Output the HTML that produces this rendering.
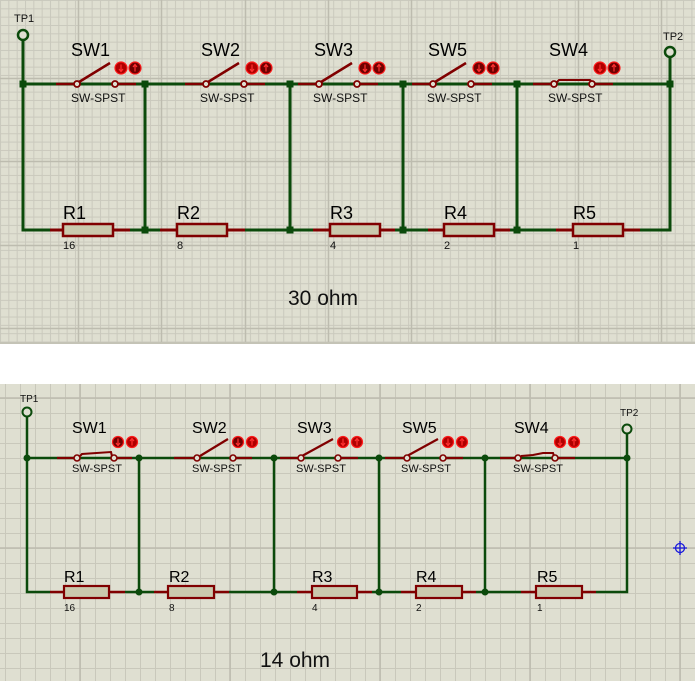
<!DOCTYPE html>
<html><head><meta charset="utf-8"><style>
html,body{margin:0;padding:0;background:#fff;}
svg{display:block;font-family:"Liberation Sans",Arial,sans-serif;}
</style></head><body>
<svg width="695" height="694" viewBox="0 0 695 694" xmlns="http://www.w3.org/2000/svg">
<defs>
<pattern id="g1" x="0" y="0" width="8.33" height="8.33" patternUnits="userSpaceOnUse">
<rect width="8.33" height="8.33" fill="#dfdfd1"/>
<path d="M0 0.5H8.33M0.5 0V8.33" stroke="#cac9bd" stroke-width="1"/>
</pattern>
<pattern id="g2" x="5" y="8" width="15" height="15" patternUnits="userSpaceOnUse">
<rect width="15" height="15" fill="#dfdfd1"/>
<path d="M0 0.5H15M0.5 0V15" stroke="#c9c8bb" stroke-width="1"/>
</pattern>
<g id="dn"><path d="M0 -3.5V3M-2 1L0 3.5L2 1" stroke="#ff3030" stroke-width="1.2" fill="none"/></g>
<g id="up"><path d="M0 3.5V-3M-2 -1L0 -3.5L2 -1" stroke="#ff3030" stroke-width="1.2" fill="none"/></g>
</defs>
<rect x="0" y="0" width="695" height="342" fill="url(#g1)"/>
<path d="M78.5 0V342M161.5 0V342M245.5 0V342M328.5 0V342M411.5 0V342M495.5 0V342M578.5 0V342M661.5 0V342M0 78.5H695M0 161.5H695M0 245.5H695M0 328.5H695" stroke="#bdbcaf" stroke-width="1.5"/>
<rect x="0" y="342" width="695" height="2" fill="#c4c3b6"/>
<rect x="0" y="384" width="695" height="297" fill="url(#g2)"/>
<path d="M80 384V681M230 384V681M380 384V681M530 384V681M680 384V681M0 398H695M0 548H695" stroke="#bdbcaf" stroke-width="1.5"/>

<!-- TOP CIRCUIT -->
<g fill="none" stroke-width="3">
<path d="M23 40V230H63M113 230H177M227 230H330M380 230H444M494 230H573M623 230H670V56" stroke="#0b4a0b"/>
<path d="M23 84H670" stroke="#0b4a0b"/>
<path d="M145 84V230M290 84V230M403 84V230M517 84V230" stroke="#0b4a0b"/>
</g>
<g stroke="#800000" stroke-width="3">
<path d="M50 230H63M113 230H130M160 230H177M227 230H245M313 230H330M380 230H395M428 230H444M494 230H510M556 230H573M623 230H640"/>
</g>
<g fill="#cac9ad" stroke="#800000" stroke-width="2.5">
<rect x="63" y="224" width="50" height="12"/><rect x="177" y="224" width="50" height="12"/><rect x="330" y="224" width="50" height="12"/><rect x="444" y="224" width="50" height="12"/><rect x="573" y="224" width="50" height="12"/>
</g>
<g fill="#000" font-size="18"><text x="63" y="219">R1</text><text x="177" y="219">R2</text><text x="330" y="219">R3</text><text x="444" y="219">R4</text><text x="573" y="219">R5</text></g>
<g fill="#111" font-size="11"><text x="63" y="249">16</text><text x="177" y="249">8</text><text x="330" y="249">4</text><text x="444" y="249">2</text><text x="573" y="249">1</text></g>
<g fill="#0b4a0b"><rect x="19.5" y="80.5" width="7" height="7"/><rect x="141.5" y="80.5" width="7" height="7"/><rect x="286.5" y="80.5" width="7" height="7"/><rect x="399.5" y="80.5" width="7" height="7"/><rect x="513.5" y="80.5" width="7" height="7"/><rect x="666.5" y="80.5" width="7" height="7"/>
<rect x="141.5" y="226.5" width="7" height="7"/><rect x="286.5" y="226.5" width="7" height="7"/><rect x="399.5" y="226.5" width="7" height="7"/><rect x="513.5" y="226.5" width="7" height="7"/></g>
<circle cx="23" cy="35" r="5" fill="#dfdfd1" stroke="#0b4a0b" stroke-width="2.5"/>
<circle cx="670" cy="52" r="5" fill="#dfdfd1" stroke="#0b4a0b" stroke-width="2.5"/>
<g font-size="11" fill="#111"><text x="14" y="22">TP1</text><text x="663" y="40">TP2</text></g>
<text x="288" y="305" font-size="21" fill="#111">30 ohm</text>

<g stroke="#800000" stroke-width="2.5" fill="none">
<path d="M56 84H74M118 84H136M185 84H203M247 84H265M298 84H316M360 84H378M412 84H430M474 84H492M533 84H551M595 84H613"/>
<path d="M79 82L110 63M208 82L239 63M321 82L352 63M435 82L466 63"/>
<path d="M557 82L559 80L590 80L592 82" stroke-width="2"/>
</g>
<g fill="#dfdfd1" stroke="#800000" stroke-width="1.8">
<circle cx="77" cy="84" r="3"/><circle cx="115" cy="84" r="3"/><circle cx="206" cy="84" r="3"/><circle cx="244" cy="84" r="3"/><circle cx="319" cy="84" r="3"/><circle cx="357" cy="84" r="3"/><circle cx="433" cy="84" r="3"/><circle cx="471" cy="84" r="3"/><circle cx="554" cy="84" r="3"/><circle cx="592" cy="84" r="3"/>
</g>
<g fill="#000" font-size="18"><text x="71" y="56">SW1</text><text x="201" y="56">SW2</text><text x="314" y="56">SW3</text><text x="428" y="56">SW5</text><text x="549" y="56">SW4</text></g>
<g fill="#111" font-size="12"><text x="71" y="102">SW-SPST</text><text x="200" y="102">SW-SPST</text><text x="313" y="102">SW-SPST</text><text x="427" y="102">SW-SPST</text><text x="548" y="102">SW-SPST</text></g>
<g stroke="#ff1a1a" stroke-width="1.2">
<circle cx="121" cy="68" r="6" fill="#b00000"/><circle cx="135" cy="68" r="6" fill="#700000"/>
<circle cx="252" cy="68" r="6" fill="#b00000"/><circle cx="266" cy="68" r="6" fill="#700000"/>
<circle cx="365" cy="68" r="6" fill="#700000"/><circle cx="379" cy="68" r="6" fill="#700000"/>
<circle cx="479" cy="68" r="6" fill="#700000"/><circle cx="493" cy="68" r="6" fill="#700000"/>
<circle cx="600" cy="68" r="6" fill="#b00000"/><circle cx="614" cy="68" r="6" fill="#700000"/>
</g>
<use href="#dn" x="121" y="68"/><use href="#up" x="135" y="68"/>
<use href="#dn" x="252" y="68"/><use href="#up" x="266" y="68"/>
<use href="#dn" x="365" y="68"/><use href="#up" x="379" y="68"/>
<use href="#dn" x="479" y="68"/><use href="#up" x="493" y="68"/>
<use href="#dn" x="600" y="68"/><use href="#up" x="614" y="68"/>

<!-- BOTTOM CIRCUIT -->
<g fill="none" stroke="#0b4a0b" stroke-width="2.5">
<path d="M27 417V592H50M125 592H154M229 592H297M372 592H401M476 592H521M596 592H627V434"/>
<path d="M27 458H627"/>
<path d="M139 458V592M274 458V592M379 458V592M485 458V592"/>
</g>
<g stroke="#800000" stroke-width="2.5">
<path d="M50 592H64M109 592H125M154 592H168M214 592H229M297 592H312M357 592H372M401 592H416M462 592H476M521 592H536M582 592H596"/>
</g>
<g fill="#cac9ad" stroke="#800000" stroke-width="2.2">
<rect x="64" y="586" width="45" height="12"/><rect x="168" y="586" width="46" height="12"/><rect x="312" y="586" width="45" height="12"/><rect x="416" y="586" width="46" height="12"/><rect x="536" y="586" width="46" height="12"/>
</g>
<g fill="#000" font-size="16"><text x="64" y="582">R1</text><text x="169" y="582">R2</text><text x="312" y="582">R3</text><text x="416" y="582">R4</text><text x="537" y="582">R5</text></g>
<g fill="#111" font-size="10"><text x="64" y="611">16</text><text x="169" y="611">8</text><text x="312" y="611">4</text><text x="416" y="611">2</text><text x="537" y="611">1</text></g>
<g fill="#0b4a0b"><circle cx="27" cy="458" r="3.5"/><circle cx="139" cy="458" r="3.5"/><circle cx="274" cy="458" r="3.5"/><circle cx="379" cy="458" r="3.5"/><circle cx="485" cy="458" r="3.5"/><circle cx="627" cy="458" r="3.5"/>
<circle cx="139" cy="592" r="3.5"/><circle cx="274" cy="592" r="3.5"/><circle cx="379" cy="592" r="3.5"/><circle cx="485" cy="592" r="3.5"/></g>
<circle cx="27" cy="412" r="4.5" fill="#dfdfd1" stroke="#0b4a0b" stroke-width="2"/>
<circle cx="627" cy="429" r="4.5" fill="#dfdfd1" stroke="#0b4a0b" stroke-width="2"/>
<g font-size="10" fill="#111"><text x="20" y="402">TP1</text><text x="620" y="416">TP2</text></g>
<text x="260" y="667" font-size="21" fill="#111">14 ohm</text>
<g stroke="#800000" stroke-width="2.2" fill="none">
<path d="M57 458H74M117 458H132M174 458H194M236 458H252M280 458H299M341 458H358M385 458H404M446 458H463M500 458H516M558 458H575"/>
<path d="M80 456L82 454L111 452L112 456" stroke-width="2"/>
<path d="M200 456L228 439M302 456L333 439M407 456L438 439"/>
<path d="M521 456L533 455L543 453L553 453L554 456" stroke-width="2"/>
</g>
<g fill="#dfdfd1" stroke="#800000" stroke-width="1.6">
<circle cx="77" cy="458" r="3"/><circle cx="114" cy="458" r="3"/><circle cx="197" cy="458" r="3"/><circle cx="233" cy="458" r="3"/><circle cx="301" cy="458" r="3"/><circle cx="338" cy="458" r="3"/><circle cx="407" cy="458" r="3"/><circle cx="443" cy="458" r="3"/><circle cx="518" cy="458" r="3"/><circle cx="555" cy="458" r="3"/>
</g>
<g fill="#000" font-size="16"><text x="72" y="433">SW1</text><text x="192" y="433">SW2</text><text x="297" y="433">SW3</text><text x="402" y="433">SW5</text><text x="514" y="433">SW4</text></g>
<g fill="#111" font-size="11"><text x="72" y="472">SW-SPST</text><text x="192" y="472">SW-SPST</text><text x="296" y="472">SW-SPST</text><text x="401" y="472">SW-SPST</text><text x="513" y="472">SW-SPST</text></g>
<g stroke="#ff1a1a" stroke-width="1.2">
<circle cx="118" cy="442" r="5.5" fill="#700000"/><circle cx="132" cy="442" r="5.5" fill="#b00000"/>
<circle cx="238" cy="442" r="5.5" fill="#700000"/><circle cx="252" cy="442" r="5.5" fill="#b00000"/>
<circle cx="343" cy="442" r="5.5" fill="#b00000"/><circle cx="357" cy="442" r="5.5" fill="#b00000"/>
<circle cx="448" cy="442" r="5.5" fill="#b00000"/><circle cx="462" cy="442" r="5.5" fill="#b00000"/>
<circle cx="560" cy="442" r="5.5" fill="#b00000"/><circle cx="574" cy="442" r="5.5" fill="#b00000"/>
</g>
<use href="#dn" x="118" y="442"/><use href="#up" x="132" y="442"/>
<use href="#dn" x="238" y="442"/><use href="#up" x="252" y="442"/>
<use href="#dn" x="343" y="442"/><use href="#up" x="357" y="442"/>
<use href="#dn" x="448" y="442"/><use href="#up" x="462" y="442"/>
<use href="#dn" x="560" y="442"/><use href="#up" x="574" y="442"/>
<g stroke="#1a1adc" stroke-width="1.3" fill="none"><circle cx="680" cy="548" r="4.5"/><path d="M673 548H687M680 541V555"/></g>
</svg>
</body></html>
